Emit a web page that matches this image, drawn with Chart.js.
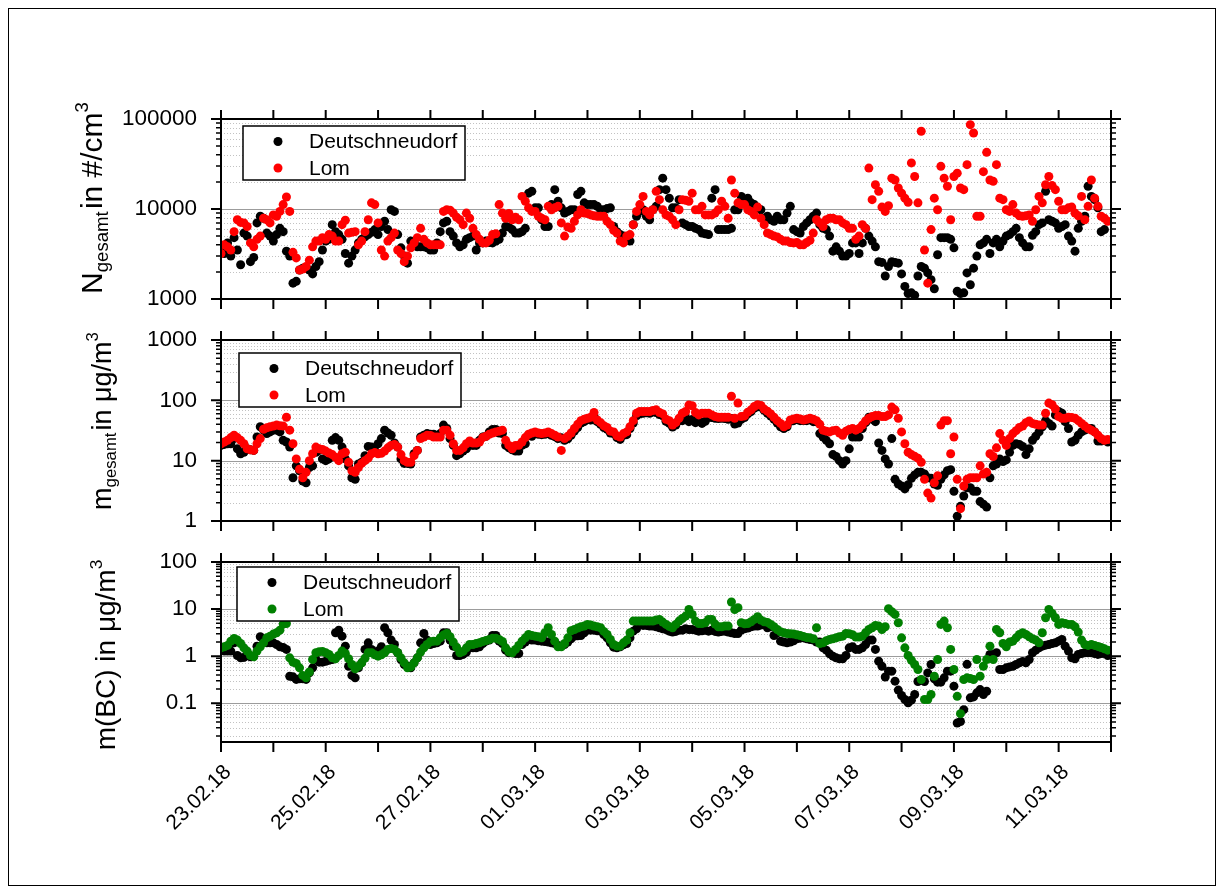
<!DOCTYPE html>
<html>
<head>
<meta charset="utf-8">
<script src="https://cdn.jsdelivr.net/npm/chart.js@4.4.1/dist/chart.umd.min.js"></script>
<style>
  html, body { margin: 0; padding: 0; background: #fff; }
  #page { position: relative; width: 1223px; height: 893px; overflow: hidden; font-family: "Liberation Sans", Arial, sans-serif; }
  #page canvas { position: absolute; left: 0; top: 0; }
  .frame { position: absolute; left: 8px; top: 8px; width: 1206px; height: 876px; border: 1.5px solid #000; }
  .ytitle { position: absolute; transform: translate(-50%, -50%) rotate(-90deg); white-space: nowrap; line-height: 1; color: #000; }
  .ytitle .sub { font-size: 0.62em; position: relative; top: 0.3em; margin-right: 0.12em; }
  .ytitle .sup { font-size: 0.62em; position: relative; top: -0.75em; }
</style>
</head>
<body>
<div id="page">
  <div class="frame"></div>
  <canvas id="pN" width="1223" height="893"></canvas>
  <canvas id="pM" width="1223" height="893"></canvas>
  <canvas id="pBC" width="1223" height="893"></canvas>
  <div class="ytitle" style="left:92px;top:198px;font-size:30px">N<span class="sub">gesamt</span>in #/cm<span class="sup">3</span></div>
  <div class="ytitle" style="left:102px;top:421px;font-size:27px">m<span class="sub">gesamt</span>in &mu;g/m<span class="sup">3</span></div>
  <div class="ytitle" style="left:106px;top:655px;font-size:28px">m(BC) in &mu;g/m<span class="sup">3</span></div>
</div>
<script>
// date labels on every second day, starting 23.02.18 00:00
const dayTicks = ['23.02.18', '25.02.18', '27.02.18', '01.03.18', '03.03.18', '05.03.18', '07.03.18', '09.03.18', '11.03.18'];
const STEP_DAYS = 1.5 / 24; // one value every 1.5 hours

// N gesamt in #/cm3
const nDeutsch = [
  3500, 3200, 4200, 3000, 4800, 3500, 2400, 5400, 5000, 2600, 2900, 7000, 8300, 7900, 5400, 5000, 4400, 5200, 6100, 5600,
  3400, 3000, 1500, 1570, 2100, 2200, 2200, 2100, 1900, 2300, 2600, 3500, 4400, 4600, 6700, 5600, 5200, 4600, 3200, 2500,
  3000, 3500, 4200, 4600, 4900, 5200, 5500, 5900, 5200, 6400, 7300, 5900, 9800, 9400, 5200, 3700, 3000, 2500, 4400, 4200,
  3800, 3800, 3800, 3700, 3500, 3500, 4200, 5600, 7000, 7300, 5600, 5000, 4200, 3800, 4000, 4600, 4800, 5000, 3500, 4200,
  4200, 4400, 4250, 4200, 4400, 4600, 5400, 6400, 6300, 5900, 5400, 5400,
  5600, 6100, 15000, 15700, 10300, 10300, 7600, 6400, 6400, 11200, 16400, 12200, 10300, 9000, 9400, 9800, 9800, 14500, 15700, 11700,
  11200, 11200, 11200, 10700, 9800, 9800, 10100, 10300, 6400, 5600, 5200, 5000, 4600, 4400, 6700, 8300, 9400, 9800, 8300, 7600,
  9800, 10700, 16400, 22000, 16400, 13200, 10300, 10300, 12700, 7000, 6700, 6400, 6400, 6100, 5900, 5400, 5300, 5200, 13200, 16400,
  5900, 5900, 5900, 5900, 6100, 9800, 9800, 13800, 12700, 13200, 11700, 11200, 10300, 9800, 7900, 8300, 7600, 7300, 8300, 7600,
  7600, 9000, 10700, 5900, 5600, 5400, 6400, 7000, 7600, 8300, 9000, 6700,
  6100, 5900, 5000, 3400, 3800, 3400, 3000, 3000, 3200, 4200, 4200, 3200, 4200, 6100, 5000, 4400, 3800, 2600, 2550, 1800,
  2300, 2600, 2550, 2500, 1900, 1380, 1150, 1170, 1100, 1800, 2300, 2200, 1950, 1640, 1300, 3100, 4800, 4800, 4800, 4600,
  3700, 1220, 1150, 1170, 1950, 1440, 2200, 3000, 4000, 4200, 4600, 3200, 4200, 4600, 3800, 4400, 5000, 5200, 5600, 6100,
  4800, 4200, 3800, 3800, 5100, 5600, 6700, 7000, 15700, 7600, 7300, 7000, 6100, 6400, 6700, 5000, 4400, 3400, 6100, 7300,
  8300, 17900, 13800, 12700, 10300, 5600, 5900
];
const nLom = [
  3200, 4000, 3800, 3500, 5600, 7600, 7100, 7000, 6400, 4200, 3800, 4600, 5000, 7900, 7600, 7000, 8600, 8300, 9400, 11200,
  13600, 9400, 3300, 2860, 2100, 2150, 2300, 2700, 3800, 4400, 4400, 4800, 4600, 5200, 5000, 4400, 4400, 6700, 7500, 5400,
  5500, 5600, 4000, 4400, 5600, 7600, 11700, 11200, 7000, 3500, 3000, 4400, 4800, 5400, 3500, 3200, 2600, 3000, 3700, 4200,
  4800, 6100, 4600, 4200, 4000, 4000, 4000, 4000, 9400, 9800, 9700, 9000, 8100, 7600, 6700, 9000, 7900, 6100, 5200, 4600,
  4200, 4200, 4500, 5200, 5300, 11200, 9000, 7900, 8900, 7600, 8100, 7600,
  13800, 12200, 10300, 9400, 9400, 8300, 7900, 7600, 10700, 9800, 10300, 10700, 7000, 5000, 6300, 6100, 7300, 8600, 9800, 9000,
  8900, 8600, 8400, 8300, 8300, 8300, 7300, 6700, 5800, 5400, 4400, 4200, 5000, 5200, 6700, 9400, 11200, 13800, 9400, 8600,
  9800, 15700, 12700, 9800, 8600, 8300, 7600, 6700, 9800, 12700, 12500, 12200, 15000, 9800, 9800, 10700, 8600, 8600, 8600, 9000,
  9800, 12200, 10700, 7900, 21000, 15000, 11700, 11200, 11200, 9800, 9400, 8600, 10500, 7900, 6700, 5400, 5200, 5000, 4900, 4600,
  4400, 4400, 4250, 4200, 4250, 4000, 4000, 4250, 4500, 5400, 7600, 7000,
  6400, 7600, 7900, 7900, 7600, 7600, 7000, 6700, 6100, 6100, 4600, 5000, 6700, 6100, 28500, 12700, 18600, 15700, 10500, 9400,
  10900, 22000, 21000, 17100, 15000, 13200, 11900, 32500, 23000, 11700, 73000, 3500, 1500, 5900, 13200, 9800, 29800, 22000, 17900, 7600,
  23000, 25000, 17100, 16400, 31100, 86500, 69800, 8300, 8300, 26000, 42600, 21000, 20300, 31100, 13200, 12700, 9800, 9400, 11200, 9000,
  8400, 8300, 8400, 8600, 7300, 9800, 13800, 11700, 18600, 23000, 18200, 16400, 12200, 9800, 9800, 10300, 10500, 9000, 8400, 13800,
  7600, 10700, 21000, 13200, 10700, 8300, 7900, 7300
];

// m gesamt in ug/m3
const mDeutsch = [
  17.9, 18.6, 19.1, 19.1, 23.2, 15.7, 13.0, 13.8, 15.7, 15.1, 14.8, 24.7, 36.5, 32.0, 28.1, 30.0, 32.0, 32.0, 30.0, 21.7,
  20.4, 16.8, 5.2, 8.2, 6.8, 4.6, 4.3, 7.7, 8.2, 13.8, 14.8, 10.7, 10, 10.7, 21.7, 24.1, 21.7, 16.8, 10.7, 8.2,
  5.2, 4.9, 8.8, 9.4, 12.1, 17.2, 16.8, 14.8, 19.1, 23.2, 32.0, 28.8, 26.4, 19.6, 16.8, 10.7, 9.0, 9.0, 8.8, 13.0,
  14.8, 24.7, 26.4, 28.1, 27.4, 27.4, 25.4, 28.1, 38.9, 34.2, 23.2, 17.9, 12.1, 13.0, 14.4, 15.7, 17.9, 17.9, 17.9, 21.7,
  24.7, 25.4, 30.0, 32.9, 32.9, 28.8, 28.1, 17.9, 16.3, 15.1, 14.4, 14.4,
  18, 19.1, 26, 25.4, 28.5, 27.4, 27, 27.4, 28, 26.4, 25, 23.2, 24, 21.7, 23, 26.4, 31, 35.5, 42, 44.3,
  48, 47.2, 55, 44.3, 40, 35.5, 33, 28.8, 28, 24.1, 22.5, 26.4, 27, 34.2, 42, 55.2, 60, 61.2, 62, 61.2,
  64, 62.8, 58, 55.2, 45, 41.5, 36, 38.9, 46, 46.0, 52, 44.3, 48, 42.6, 46, 41.5, 45, 52.4, 52, 50.4,
  50, 50.4, 50, 48.5, 50, 40.4, 42, 48.5, 52, 59.6, 65, 74.2, 78, 77.2, 68, 61.2, 55, 48.5, 42, 36.5,
  34, 36.5, 45, 46.0, 48, 46.0, 46, 46.0, 48, 44.3, 44, 28.1,
  24.7, 21.7, 19.1, 12.6, 11.7, 10.0, 8.8, 10.0, 15.7, 24.7, 24.7, 24.7, 34.2, 42.6, 52.4, 48.5, 44.3, 19.6, 14.8, 10.7,
  8.8, 23.2, 4.9, 4.1, 3.8, 3.4, 4.0, 5.1, 5.8, 6.4, 6.4, 6.0, 5.2, 5.1, 4.1, 3.9, 4.9, 5.8, 6.8, 7.1,
  3.1, 1.2, 1.75, 2.6, 3.55, 3.55, 3.1, 3.1, 2.1, 1.9, 1.7, 5.2, 8.2, 8.8, 10.7, 9.7, 10.3, 13.8, 17.9, 19.1,
  18.6, 17.2, 12.6, 15.7, 21.7, 25.4, 30.0, 36.5, 46.0, 41.5, 37.4, 57.4, 65.3, 61.2, 44.3, 34.2, 20.4, 21.7, 26.4, 30.0,
  32.0, 34.2, 34.2, 30.0, 21.2, 21.2, 21.7, 20.4
];
const mLom = [
  19.1, 20.4, 21.7, 24.1, 26.4, 24.1, 21.7, 19.1, 15.7, 15.1, 14.8, 19.1, 23.2, 33.2, 35.1, 36.5, 37.4, 38.9, 37.9, 37.4,
  52.4, 32.0, 19.1, 10.7, 7.2, 5.2, 6.4, 10.0, 13.0, 16.8, 15.7, 15.3, 14.4, 13.4, 12.6, 11.4, 10.0, 13.0, 13.8, 9.4,
  6.8, 6.4, 7.7, 9.0, 10.0, 11.0, 13.0, 13.6, 13.0, 13.3, 14.4, 16.3, 17.9, 18.6, 16.8, 12.6, 10.0, 9.4, 9.4, 12.1,
  14.8, 23.2, 24.7, 26.4, 26.1, 24.7, 24.7, 24.7, 32.0, 32.0, 26.4, 19.1, 14.8, 14.8, 16.3, 19.1, 21.2, 19.6, 19.6, 20.4,
  24.1, 25.4, 27.4, 28.8, 30.0, 30.8, 32.0, 21.7, 17.9, 15.7, 17.9, 18.0,
  20.4, 24.1, 27.4, 28.8, 30.0, 28.8, 28.1, 28.8, 30.0, 28.1, 26.4, 24.7, 14.8, 23.2, 25.4, 28.8, 34.2, 40.0, 46.0, 48.5,
  50.4, 52.4, 62.8, 47.2, 42.6, 37.9, 35.5, 30.8, 30.0, 25.8, 24.7, 28.1, 30.0, 36.5, 46.0, 61.2, 65.3, 65.3, 65.3, 65.3,
  67.8, 69.6, 62.8, 59.6, 48.5, 46.0, 38.9, 42.6, 50.4, 61.2, 65.3, 83.5, 81.3, 62.8, 57.4, 61.2, 61.2, 61.2, 57.4, 53.8,
  52.4, 52.4, 52.4, 52.4, 117, 50.4, 90, 53.8, 55.2, 63.6, 69.6, 79.2, 84.5, 82.3, 71.5, 66.1, 59.6, 52.4, 46.0, 41.5,
  36.5, 38.9, 47.2, 49.1, 50.4, 49.1, 47.2, 48.5, 50.4, 48.5, 46.0, 40.0,
  32.0, 30.8, 30.0, 31.4, 32.0, 28.8, 26.4, 30.8, 32.9, 34.2, 32.0, 34.2, 38.9, 45.4, 50.4, 53.8, 55.9, 55.9, 53.8, 53.8,
  57.4, 77.2, 69.6, 50.4, 30.0, 19.1, 13.8, 12.6, 11.8, 11.0, 9.4, 4.9, 2.9, 2.4, 4.3, 5.6, 38.9, 46.0, 46.0, 13.0,
  24.7, 4.9, 1.6, 3.8, 4.9, 5.2, 5.2, 5.2, 8.2, 6.0, 6.4, 13.0, 11.7, 16.3, 28.1, 21.7, 17.9, 23.2, 28.1, 31.4,
  35.5, 37.4, 42.6, 45.4, 41.5, 40.0, 38.9, 38.9, 61.2, 90.1, 84.5, 71.5, 53.8, 50.4, 50.4, 52.4, 51.7, 50.4, 46.0, 41.5,
  37.4, 34.2, 32.0, 30.0, 26.4, 23.2, 21.7, 22.4
];

// m(BC) in ug/m3
const bcDeutsch = [
  1.34, 1.28, 1.28, 1.28, 1.92, 1.03, 0.92, 0.94, 1.18, 0.97, 1.0, 1.63, 2.58, 2.26, 1.92, 1.92, 1.92, 1.77, 1.58, 1.53,
  1.39, 0.375, 0.363, 0.32, 0.33, 0.33, 0.32, 0.44, 0.565, 0.85, 0.745, 0.745, 0.78, 0.82, 0.85, 3.14, 3.57, 2.66, 1.63, 0.61,
  0.39, 0.346, 0.565, 0.72, 1.39, 1.92, 1.39, 1.22, 1.28, 1.58, 4.0, 3.14, 2.19, 1.77, 1.18, 0.85, 0.665, 0.61, 0.565, 0.72,
  0.92, 1.92, 3.03, 2.19, 1.77, 1.86, 1.92, 2.08, 3.13, 3.14, 2.19, 1.63, 1.03, 1.03, 1.09, 1.22, 1.50, 1.50, 1.50, 1.58,
  1.86, 2.08, 2.19, 2.75, 2.75, 2.08, 1.86, 1.34, 1.18, 1.18, 1.14, 1.14,
  1.77, 1.99, 2.34, 2.19, 2.19, 2.12, 2.08, 2.05, 1.99, 1.92, 1.86, 1.69, 1.63, 1.77, 1.99, 2.34, 2.66, 2.71, 2.75, 3.14,
  3.57, 3.57, 3.57, 3.46, 3.40, 2.89, 2.45, 1.92, 1.55, 1.50, 1.58, 1.74, 1.86, 2.45, 3.40, 3.82, 4.72, 4.49, 4.49, 4.35,
  4.35, 4.21, 4.0, 3.82, 3.69, 3.40, 3.24, 3.35, 3.57, 3.57, 3.82, 3.69, 3.69, 3.57, 3.40, 3.46, 3.57, 3.40, 3.57, 3.35,
  3.24, 3.35, 3.40, 3.24, 3.14, 3.03, 3.03, 3.57, 3.82, 3.94, 4.21, 4.35, 4.35, 4.57, 4.72, 4.0, 4.21, 2.75, 3.14, 2.08,
  1.99, 1.92, 1.99, 2.12, 2.34, 2.41, 2.45, 2.34, 2.26, 2.19, 1.99, 1.99,
  1.50, 1.34, 1.12, 1.0, 0.92, 0.88, 0.88, 1.03, 1.50, 1.58, 1.39, 1.39, 1.50, 1.77, 2.19, 2.19, 1.39, 0.78, 0.61, 0.36,
  0.48, 0.48, 0.294, 0.19, 0.146, 0.12, 0.102, 0.116, 0.153, 0.29, 0.31, 0.29, 0.44, 0.665, 0.33, 0.28, 0.28, 0.346, 0.48, 0.48,
  0.23, 0.038, 0.041, 0.073, 0.67, 0.13, 0.136, 0.166, 0.195, 0.153, 0.18, 1.09, 1.09, 1.18, 0.52, 0.52, 0.565, 0.59, 0.61, 0.665,
  0.72, 0.77, 0.72, 0.85, 1.18, 1.34, 1.50, 1.63, 1.71, 1.77, 1.86, 1.92, 2.08, 2.26, 1.63, 1.28, 0.92, 0.88, 1.09, 1.14,
  1.18, 1.18, 1.18, 1.14, 1.09, 1.14, 1.14, 1.03
];
const bcLom = [
  1.50, 1.58, 1.69, 2.08, 2.38, 2.19, 1.86, 1.50, 1.28, 1.03, 0.97, 1.28, 1.58, 1.92, 2.45, 2.66, 2.94, 3.14, 3.57, 4.8,
  4.95, 0.92, 0.745, 0.70, 0.565, 0.39, 0.346, 0.46, 0.85, 1.18, 1.24, 1.26, 1.18, 1.09, 0.92, 0.88, 1.03, 1.28, 1.14, 0.88,
  0.665, 0.54, 0.61, 0.72, 0.906, 1.18, 1.18, 1.07, 1.0, 1.07, 1.18, 1.39, 1.46, 1.39, 1.18, 0.92, 0.72, 0.565, 0.59, 0.72,
  0.92, 1.22, 1.50, 1.77, 2.02, 2.08, 2.08, 2.45, 2.80, 3.03, 2.58, 1.99, 1.55, 1.18, 1.26, 1.50, 1.77, 1.77, 1.86, 1.92,
  2.05, 2.15, 2.26, 2.41, 2.41, 2.26, 2.05, 1.50, 1.24, 1.18, 1.39, 1.69,
  2.08, 2.45, 2.89, 2.75, 2.66, 2.58, 2.45, 3.14, 4.0, 2.89, 2.08, 1.58, 1.58, 1.86, 2.45, 3.46, 3.69, 3.94, 4.21, 4.35,
  4.72, 4.57, 4.35, 4.21, 4.0, 3.35, 2.89, 2.26, 1.77, 1.63, 1.63, 1.92, 2.19, 3.14, 5.55, 5.55, 5.55, 5.55, 5.55, 5.55,
  5.55, 5.83, 6.03, 5.29, 4.72, 4.28, 4.0, 4.72, 5.55, 6.3, 7.1, 9.8, 7.7, 5.55, 4.95, 4.95, 5.12, 6.03, 6.03, 4.8,
  4.21, 4.21, 4.35, 4.35, 14.1, 9.8, 10.7, 5.12, 4.87, 4.95, 5.38, 6.03, 6.87, 5.83, 5.38, 5.2, 4.72, 4.21, 3.69, 3.29,
  3.14, 3.03, 2.99, 2.94, 2.84, 2.75, 2.62, 2.49, 2.45, 2.34, 4.0, 1.86,
  1.92, 2.12, 2.26, 2.34, 2.45, 2.58, 2.66, 3.03, 2.99, 2.84, 2.54, 2.54, 2.66, 3.14, 3.69, 4.0, 4.49, 4.35, 3.69, 4.21,
  10.2, 8.8, 7.7, 5.12, 2.45, 1.50, 1.03, 0.82, 0.665, 0.52, 0.319, 0.12, 0.12, 0.153, 0.375, 0.85, 4.72, 5.55, 4.0, 1.39,
  0.52, 0.14, 0.06, 0.319, 0.346, 0.335, 0.319, 0.85, 0.375, 0.61, 0.85, 1.63, 0.85, 3.69, 3.14, 1.86, 1.58, 1.99, 2.08, 2.45,
  2.89, 3.14, 2.89, 2.58, 2.34, 2.19, 1.92, 3.14, 6.54, 9.8, 8.09, 6.54, 4.72, 5.12, 4.95, 4.72, 4.72, 4.21, 3.24, 2.19,
  1.77, 1.69, 1.77, 1.69, 1.61, 1.53, 1.43, 1.34
];

const FONT = '"Liberation Sans", Arial, sans-serif';
Chart.defaults.font.family = FONT;
Chart.defaults.color = '#000';

const toPoints = values => values.map((v, i) => ({ x: i * STEP_DAYS, y: v }));
const isDecade = v => Math.abs(Math.log10(v) - Math.round(Math.log10(v))) < 1e-6;

function drawLegend(ctx, box, items) {
  ctx.save();
  ctx.fillStyle = '#fff';
  ctx.fillRect(box.x, box.y, 222, 54);
  ctx.strokeStyle = '#000';
  ctx.lineWidth = 1.5;
  ctx.strokeRect(box.x, box.y, 222, 54);
  ctx.font = '21px ' + FONT;
  ctx.textBaseline = 'middle';
  items.forEach(([label, color], k) => {
    const cy = box.y + 15.5 + k * 26.5;
    ctx.fillStyle = color;
    ctx.beginPath();
    ctx.arc(box.x + 35, cy, 4.5, 0, Math.PI * 2);
    ctx.fill();
    ctx.fillStyle = '#000';
    ctx.fillText(label, box.x + 66, cy + 1);
  });
  ctx.restore();
}

// log grid, outward ticks, frame and legend box
const panelFrame = {
  id: 'panelFrame',
  beforeDatasetsDraw(chart) {
    const { ctx, chartArea: a, scales: { y } } = chart;
    ctx.save();
    ctx.lineWidth = 1;
    for (let e = Math.floor(Math.log10(y.min)); e < Math.log10(y.max); e++) {
      for (let k = 1; k <= 9; k++) {
        const v = k * Math.pow(10, e);
        if (v <= y.min * 1.0001 || v >= y.max * 0.9999) continue;
        const py = Math.round(y.getPixelForValue(v)) + 0.5;
        ctx.strokeStyle = k === 1 ? '#9c9c9c' : '#c2c2c2';
        ctx.setLineDash(k === 1 ? [] : [1, 2]);
        ctx.beginPath();
        ctx.moveTo(a.left, py);
        ctx.lineTo(a.right, py);
        ctx.stroke();
      }
    }
    ctx.restore();
  },
  afterDatasetsDraw(chart, args, opts) {
    const { ctx, chartArea: a, scales: { x, y } } = chart;
    ctx.save();
    ctx.strokeStyle = '#000';
    for (let e = Math.floor(Math.log10(y.min)); e <= Math.log10(y.max); e++) {
      for (let k = 1; k <= 9; k++) {
        const v = k * Math.pow(10, e);
        if (v < y.min * 0.9999 || v > y.max * 1.0001) continue;
        const py = y.getPixelForValue(v);
        const len = k === 1 ? 10 : 5;
        ctx.lineWidth = k === 1 ? 2 : 1.5;
        ctx.beginPath();
        ctx.moveTo(a.left - len, py); ctx.lineTo(a.left, py);
        ctx.moveTo(a.right, py); ctx.lineTo(a.right + len, py);
        ctx.stroke();
      }
    }
    ctx.lineWidth = 2;
    for (let d = x.min; d <= x.max; d++) {
      const px = x.getPixelForValue(d);
      ctx.beginPath();
      ctx.moveTo(px, a.top - 9); ctx.lineTo(px, a.top);
      ctx.moveTo(px, a.bottom); ctx.lineTo(px, a.bottom + 10);
      ctx.stroke();
    }
    ctx.strokeRect(a.left, a.top, a.right - a.left, a.bottom - a.top);
    ctx.restore();
    drawLegend(ctx, opts.box, opts.items);
  }
};

function makePanel(id, p) {
  const datasets = p.series.map(([label, values, color], k) => ({
    label,
    data: toPoints(values),
    backgroundColor: color,
    borderColor: color,
    borderWidth: 0,
    pointRadius: 4.5,
    order: k === 0 ? 2 : 1,
  }));
  return new Chart(document.getElementById(id), {
    type: 'scatter',
    data: { datasets },
    options: {
      responsive: false,
      animation: false,
      devicePixelRatio: 1,
      layout: { padding: { left: 0, right: 112, top: p.top, bottom: p.bottom } },
      plugins: {
        legend: { display: false },
        tooltip: { enabled: false },
        panelFrame: { box: p.legend, items: p.series.map(s => [s[0], s[2]]) },
      },
      scales: {
        x: {
          type: 'linear',
          min: 0,
          max: 17,
          display: p.dates,
          grid: { display: false },
          border: { display: false },
          ticks: {
            stepSize: 1,
            autoSkip: false,
            minRotation: 45,
            maxRotation: 45,
            padding: 10,
            labelOffset: 7,
            font: { size: 21 },
            callback: v => (Math.round(v) % 2 === 0 ? dayTicks[Math.round(v) / 2] : ''),
          },
          afterFit: s => { s.height = p.axisH; },
        },
        y: {
          type: 'logarithmic',
          min: p.min,
          max: p.max,
          grid: { display: false },
          border: { display: false },
          ticks: {
            autoSkip: false,
            padding: 16,
            font: { size: 22.5 },
            callback: v => (isDecade(v) ? String(Number(v.toPrecision(6))) : ''),
          },
          afterFit: s => { s.width = 221; },
        },
      },
    },
    plugins: [panelFrame],
  });
}

makePanel('pN', {
  top: 119, bottom: 594, min: 1000, max: 100000, dates: false, axisH: 0,
  legend: { x: 243, y: 126 },
  series: [['Deutschneudorf', nDeutsch, '#000000'], ['Lom', nLom, '#ff0000']],
});
makePanel('pM', {
  top: 340, bottom: 372, min: 1, max: 1000, dates: false, axisH: 0,
  legend: { x: 239, y: 353 },
  series: [['Deutschneudorf', mDeutsch, '#000000'], ['Lom', mLom, '#ff0000']],
});
makePanel('pBC', {
  top: 562, bottom: 0, min: 0.015, max: 100, dates: true, axisH: 151,
  legend: { x: 237, y: 567 },
  series: [['Deutschneudorf', bcDeutsch, '#000000'], ['Lom', bcLom, '#008000']],
});
</script>
</body>
</html>
